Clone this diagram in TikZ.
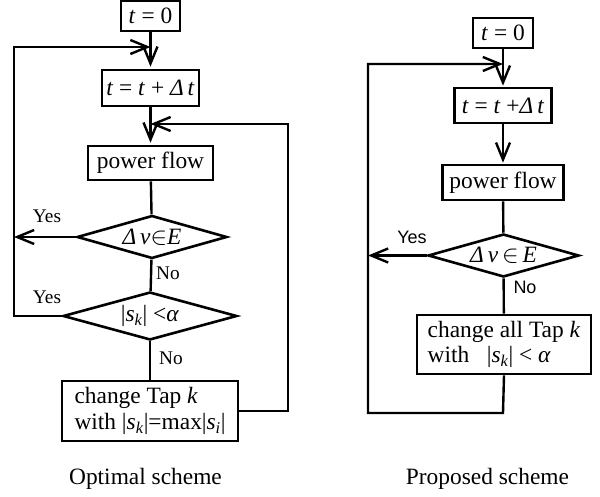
\documentclass[tikz,border=0pt]{standalone}
\usepackage{fontspec}
\setmainfont{Liberation Serif}
\newfontfamily\labelsans{Liberation Sans}
\usetikzlibrary{shapes.geometric,arrows.meta}
\newcommand{\sub}[1]{\textsubscript{\textit{#1}}}
\begin{document}
\begin{tikzpicture}[x=1pt,y=-1pt,
  every node/.style={font=\fontsize{23.4}{25.6}\selectfont},
  box/.style={draw,line width=2.6pt,inner sep=0pt},
  decision/.style={draw,diamond,line width=2.6pt,inner sep=0pt,aspect=3.5},
  flow/.style={line width=2.4pt},
  arr/.style={flow,-{Straight Barb[length=17pt,width=14pt]}},
  serifnote/.style={font=\fontsize{19.3}{21}\selectfont},
  sansnote/.style={font=\fontsize{18}{20}\selectfont\labelsans},
  caption/.style={font=\fontsize{23.4}{25.6}\selectfont}]
\useasboundingbox (0,0) rectangle (600,497);

% ---------- optimal scheme ----------
\node[box,minimum width=59pt,minimum height=30pt] (L0) at (150.5,16) {\textit{t} = 0};
\node[box,minimum width=97pt,minimum height=36pt] (L1) at (150.5,88) {\textit{t} = \textit{t} + \textit{Δ\,t}};
\node[box,minimum width=125pt,minimum height=34pt] (L2) at (150.5,163) {power flow};
\node[decision,minimum width=150pt,minimum height=43pt] (LD1) at (152,237) {\textit{Δ\,v}$\in$\textit{E}};
\node[decision,minimum width=174pt,minimum height=48pt] (LD2) at (150,316) {|\textit{s}\sub{k}| <\textit{α}};
\node[box,minimum width=176pt,minimum height=60pt,align=left] (L3) at (150,411)
  {change Tap \textit{k}\\with |\textit{s}\sub{k}|=max|\textit{s}\sub{i}|};

\coordinate (LjTop) at (150.5,47);
\coordinate (LjMid) at (150.5,124);
\coordinate (LyesA) at (14,237);
\coordinate (LleftB) at (14,316);
\coordinate (LleftT) at (14,47);
\coordinate (LrightB) at (288,411);
\coordinate (LrightT) at (288,124);

\draw[arr,shorten >=2pt] (L0) -- (L1);
\draw[arr,shorten >=2pt] (L1) -- (L2);
\draw[flow] (L2) -- (LD1);
\draw[flow] (LD1) -- (LD2);
\draw[flow] (LD2) -- (L3);
\draw[arr] (LD1.west) -- (LyesA);
\draw[arr] (LD2.west) -- (LleftB) -- (LleftT) -- (LjTop);
\draw[arr] (L3.east) -- (LrightB) -- (LrightT) -- (LjMid);

\node[serifnote] (LyesTxt1) at (47,216) {Yes};
\node[serifnote] (LnoTxt1) at (168,273) {No};
\node[serifnote] (LyesTxt2) at (47,297) {Yes};
\node[serifnote] (LnoTxt2) at (171,358) {No};

\node[caption] (capL) at (145.5,479) {Optimal scheme};

% ---------- proposed scheme ----------
\node[box,minimum width=60pt,minimum height=30pt] (R0) at (503,33) {\textit{t} = 0};
\node[box,minimum width=97pt,minimum height=35pt] (R1) at (503,105.5) {\textit{t} = \textit{t} +\textit{Δ\,t}};
\node[box,minimum width=121pt,minimum height=35pt] (R2) at (503,182.5) {power flow};
\node[decision,minimum width=151pt,minimum height=43pt] (RD) at (503.5,255.5) {\textit{Δ\,v}\,$\in$\,\textit{E}};
\node[box,minimum width=174pt,minimum height=59pt,align=left] (R3) at (504,344.5)
  {change all Tap \textit{k}\\with\enspace\ |\textit{s}\sub{k}| < \textit{α}};

\coordinate (RjTop) at (503,64);
\coordinate (RyesA) at (368,255.5);
\coordinate (RbotR) at (503,413);
\coordinate (RbotL) at (368,413);
\coordinate (RtopL) at (368,64);

\draw[arr,shorten >=1pt] (R0) -- (R1);
\draw[arr,shorten >=1pt] (R1) -- (R2);
\draw[flow] (R2) -- (RD);
\draw[flow] (RD) -- (R3);
\draw[arr] (RD.west) -- (RyesA);
\draw[arr] (R3.south) -- (RbotR) -- (RbotL) -- (RtopL) -- (RjTop);

\node[sansnote] (RyesTxt) at (412,237) {Yes};
\node[sansnote] (RnoTxt) at (525,287) {No};

\node[caption] (capR) at (487.5,479) {Proposed scheme};
\end{tikzpicture}
\end{document}
